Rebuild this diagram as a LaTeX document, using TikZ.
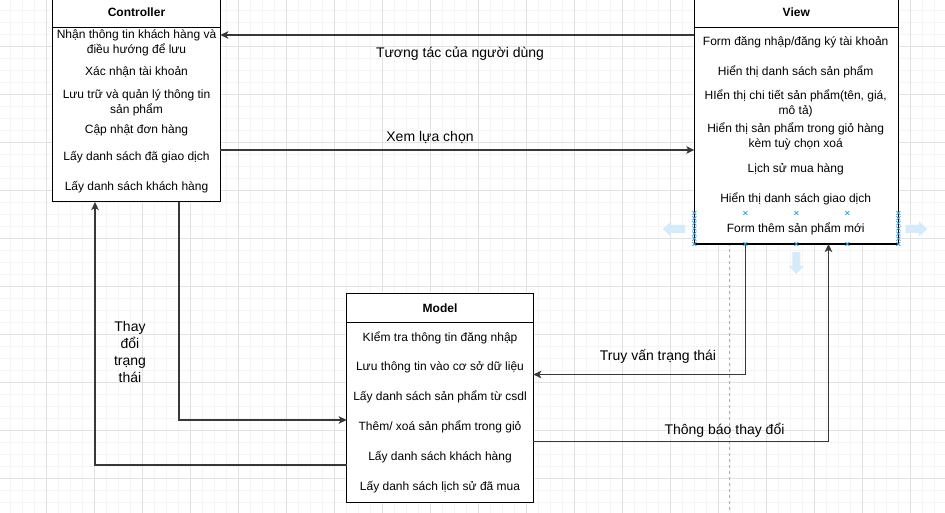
\documentclass[tikz,border=0pt]{standalone}
\usepackage{fontspec}
\setmainfont{Liberation Sans}
\usetikzlibrary{arrows.meta}
\definecolor{gridmajor}{RGB}{226,226,226}
\definecolor{gridminor}{RGB}{245,245,245}
\definecolor{selblue}{RGB}{41,160,230}
\definecolor{hintblue}{RGB}{214,235,250}
\definecolor{guide}{RGB}{175,175,175}
\begin{document}
\begin{tikzpicture}[x=1pt,y=-1pt,
  box/.style={draw=black, fill=white, line width=1pt, inner sep=0pt, outer sep=0pt, anchor=north west},
  item/.style={font=\fontsize{12}{14.5}\selectfont, align=center, anchor=base, inner sep=0pt, text=black},
  ttl/.style={font=\fontsize{12}{14.5}\selectfont\bfseries, anchor=base, inner sep=0pt},
  lbl/.style={font=\fontsize{14}{16.9}\selectfont, align=center, anchor=base, inner sep=0pt},
  conn/.style={draw=black!78, line width=1.2pt, -{Stealth[length=8pt,width=7.5pt,inset=2pt]}},
  hdr/.style={draw=black, line width=1pt},
  selx/.style={draw=selblue, line width=0.7pt},
  hint/.style={fill=hintblue, draw=none}
]
\useasboundingbox (0,0) rectangle (945,513);
\fill[white] (0,0) rectangle (945,513);
% grid
\foreach \k in {0,...,78} {\draw[gridminor, line width=0.9pt] ({10.7+12*\k},0) -- ({10.7+12*\k},513);}
\foreach \k in {0,...,42} {\draw[gridminor, line width=0.9pt] (0,{10.3+12*\k}) -- (945,{10.3+12*\k});}
\foreach \k in {1,...,19} {\draw[gridmajor, line width=0.9pt] ({-1.3+48*\k},0) -- ({-1.3+48*\k},513);}
\foreach \k in {1,...,10} {\draw[gridmajor, line width=0.9pt] (0,{-1.7+48*\k}) -- (945,{-1.7+48*\k});}

% guide line
\coordinate (gtop) at (729.5,27.3);
\coordinate (gbot) at (729.5,513);
\draw[guide, line width=0.8pt, dash pattern=on 3pt off 3pt] (gtop) -- (gbot);

% boxes
\node[box, minimum width=167.6pt, minimum height=203pt] (ctrl) at (52.7,-1) {};
\node[box, minimum width=204pt, minimum height=245pt] (view) at (694.3,-1) {};
\node[box, minimum width=186.6pt, minimum height=209pt] (model) at (346.7,293.3) {};
\draw[hdr] (ctrl.west |- 0,27.3) -- (ctrl.east |- 0,27.3);
\draw[hdr] (view.west |- 0,27.3) -- (view.east |- 0,27.3);
\draw[hdr] (model.west |- 0,322) -- (model.east |- 0,322);

% titles
\node[ttl] (tc) at (136.5,17) {Controller};
\node[ttl] (tv) at (796.3,17) {View};
\node[ttl] (tm) at (440,312.5) {Model};

% controller items (multi-line: anchor at last baseline)
\node[item] (c1) at (136.5,53.3) {Nhận thông tin khách hàng và\\điều hướng để lưu};
\node[item] (c2) at (136.5,75.5) {Xác nhận tài khoản};
\node[item] (c3) at (136.5,113.5) {Lưu trữ và quản lý thông tin\\sản phẩm};
\node[item] (c4) at (136.5,133.3) {Cập nhật đơn hàng};
\node[item] (c5) at (136.5,160.7) {Lấy danh sách đã giao dịch};
\node[item] (c6) at (136.5,190.7) {Lấy danh sách khách hàng};

% view items
\node[item] (v1) at (795.7,45.7) {Form đăng nhập/đăng ký tài khoản};
\node[item] (v2) at (795.7,75.7) {Hiển thị danh sách sản phẩm};
\node[item] (v3) at (795.7,114.2) {HIển thị chi tiết sản phẩm(tên, giá,\\mô tả)};
\node[item] (v4) at (795.7,147.5) {Hiển thị sản phẩm trong giỏ hàng\\kèm tuỳ chọn xoá};
\node[item] (v5) at (795.7,173) {Lịch sử mua hàng};
\node[item] (v6) at (795.7,202.7) {Hiển thị danh sách giao dịch};
\node[item] (v7) at (795.7,232.3) {Form thêm sản phẩm mới};

% model items
\node[item] (m1) at (440,341.3) {KIểm tra thông tin đăng nhập};
\node[item] (m2) at (440,370.7) {Lưu thông tin vào cơ sở dữ liệu};
\node[item] (m3) at (440,400.7) {Lấy danh sách sản phẩm từ csdl};
\node[item] (m4) at (440,430.7) {Thêm/ xoá sản phẩm trong giỏ};
\node[item] (m5) at (440,460.7) {Lấy danh sách khách hàng};
\node[item] (m6) at (440,490.7) {Lấy danh sách lịch sử đã mua};

% connectors
\draw[conn] (view.west |- 0,35) -- (ctrl.east |- 0,35);
\draw[conn] (ctrl.east |- 0,150) -- (view.west |- 0,150);
\draw[conn] (ctrl.south -| 179,0) |- (model.west |- 0,420);
\draw[conn] (model.west |- 0,465) -| (ctrl.south -| 95,0);
\draw[conn] (view.south -| 745.3,0) |- (model.east |- 0,374.5);
\draw[conn] (model.east |- 0,441.5) -| (view.south -| 828.5,0);

% connector labels
\node[lbl] (l1) at (460,57.7) {Tương tác của người dùng};
\node[lbl] (l2) at (430,141.5) {Xem lựa chọn};
\node[lbl] (l3) at (130,382) {Thay\\đổi\\trạng\\thái};
\node[lbl] (l4) at (658,360) {Truy vấn trạng thái};
\node[lbl] (l5) at (724.5,434.3) {Thông báo thay đổi};

% selection handles
\foreach \yy in {213,218.2,223.3,228.5,233.7,238.8,244} {
  \draw[selx] (692.3,\yy-2) -- (696.3,\yy+2) (692.3,\yy+2) -- (696.3,\yy-2);
  \draw[selx] (896.3,\yy-2) -- (900.3,\yy+2) (896.3,\yy+2) -- (900.3,\yy-2);
}
\foreach \xx in {745.3,796.3,847.3} {
  \draw[selx] (\xx-2,211) -- (\xx+2,215) (\xx-2,215) -- (\xx+2,211);
  \draw[selx] (\xx-2,242) -- (\xx+2,246) (\xx-2,246) -- (\xx+2,242);
}
\fill[hint] (662.7,229) -- (671,221.5) -- (671,225) -- (685,225) -- (685,233) -- (671,233) -- (671,236.5) -- cycle;
\fill[hint] (927.3,229) -- (919,221.5) -- (919,225) -- (905.7,225) -- (905.7,233) -- (919,233) -- (919,236.5) -- cycle;
\fill[hint] (796.3,274) -- (788.8,266) -- (792.3,266) -- (792.3,252) -- (800.3,252) -- (800.3,266) -- (803.8,266) -- cycle;
\end{tikzpicture}
\end{document}
